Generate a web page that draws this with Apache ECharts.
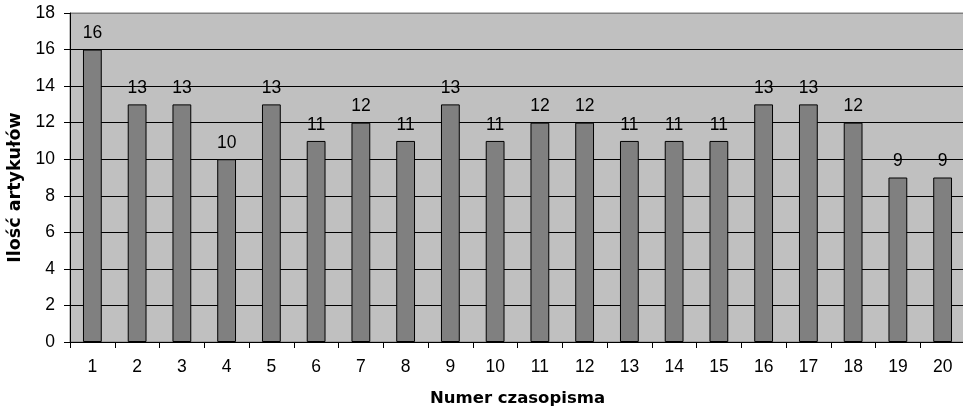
<!DOCTYPE html>
<html><head><meta charset="utf-8">
<script src="https://cdn.jsdelivr.net/npm/echarts@6/dist/echarts.min.js"></script>
<style>html,body{margin:0;padding:0;background:#fff}#c{width:963px;height:407px}</style>
</head><body><div id="c"></div>
<script>
const categories = ['1','2','3','4','5','6','7','8','9','10','11','12','13','14','15','16','17','18','19','20'];
const values = [16,13,13,10,13,11,12,11,13,11,12,12,11,11,11,13,13,12,9,9];
const yTicks = [0,2,4,6,8,10,12,14,16,18];
const xTitle = 'Numer czasopisma';
const yTitle = 'Ilość artykułów';

const splitColors = yTicks.map((t, i) => i === yTicks.length - 1 ? '#808080' : '#000');

const chart = echarts.init(document.getElementById('c'), null, {renderer:'canvas'});
chart.setOption({
  animation:false,
  textStyle:{fontFamily:'Liberation Sans, Arial, sans-serif'},
  grid:{left:70, right:-2, top:13, bottom:65, outerBoundsMode:'none', containLabel:false, show:true, backgroundColor:'#c0c0c0', borderColor:'#808080', borderWidth:1},
  xAxis:{
    type:'category', data:categories,
    name:xTitle, nameLocation:'middle', nameGap:48,
    nameTextStyle:{fontWeight:'bold', fontSize:16.5, color:'#000', fontFamily:'DejaVu Sans'},
    axisLine:{lineStyle:{color:'#000', width:1}},
    axisTick:{show:true, alignWithLabel:false, length:6, lineStyle:{color:'#000'}},
    axisLabel:{color:'#000', fontSize:17.5, margin:16},
    splitLine:{show:false}
  },
  yAxis:{
    type:'value', min:yTicks[0], max:yTicks[yTicks.length-1], interval:2,
    name:yTitle, nameLocation:'middle', nameGap:45,
    nameTextStyle:{fontWeight:'bold', fontSize:17.5, color:'#000', fontFamily:'DejaVu Sans', padding:[0,20,0,0]},
    axisLine:{show:true, lineStyle:{color:'#000'}},
    axisTick:{show:true, length:6, lineStyle:{color:'#000'}},
    axisLabel:{color:'#000', fontSize:17.5, margin:15},
    splitLine:{show:true, lineStyle:{color:splitColors, width:1}}
  },
  series:[{
    type:'bar', data:values, barWidth:'42%',
    itemStyle:{color:'#808080', borderColor:'#000', borderWidth:1},
    label:{show:true, position:'top', distance:7, color:'#000', fontSize:17.5}
  }]
});
</script></body></html>
